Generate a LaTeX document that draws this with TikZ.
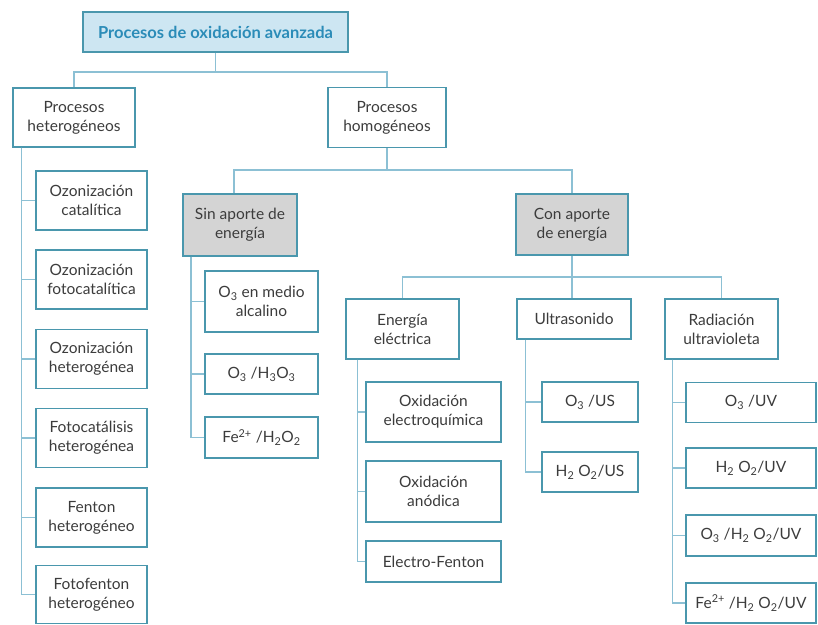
\documentclass[tikz,border=0pt]{standalone}
\usepackage{fontspec}
\setmainfont{Lato}
\usepackage{tikz}

\definecolor{boxline}{HTML}{4A97AD}
\definecolor{linkc}{HTML}{8CC0D4}
\definecolor{titlefill}{HTML}{CDE6F2}
\definecolor{titletext}{HTML}{2B8CB8}
\definecolor{greyfill}{HTML}{D4D4D4}
\definecolor{txt}{HTML}{3C3C3C}

\tikzset{
  box/.style={draw=boxline, line width=1.2pt, fill=white, text=txt, align=center,
    inner sep=0pt, font=\fontsize{15.5}{19}\selectfont},
  greybox/.style={box, fill=greyfill},
  titlebox/.style={box, fill=titlefill, text=titletext, font=\fontsize{16.5}{19}\selectfont\bfseries},
  link/.style={draw=linkc, line width=1.2pt}
}

\begin{document}
\begin{tikzpicture}[x=1pt,y=-1pt]
        \useasboundingbox (0,0) rectangle (818,624);
        % first levels
        \node[titlebox, minimum width=265, minimum height=40] (top) at (215.5,32) {Procesos de oxidación avanzada};
        \node[box, minimum width=122, minimum height=59] (het) at (74,117.5) {Procesos\\heterogéneos};
        \node[box, minimum width=118, minimum height=60] (hom) at (387,117.5) {Procesos\\homogéneos};
        \node[greybox, minimum width=114, minimum height=62] (sin) at (240,225) {Sin aporte de\\energía};
        \node[greybox, minimum width=112, minimum height=61] (con) at (572,224.5) {Con aporte\\de energía};
        \node[box, minimum width=113, minimum height=60] (ene) at (402.5,329) {Energía\\eléctrica};
        \node[box, minimum width=114, minimum height=40] (ult) at (574,319) {Ultrasonido};
        \node[box, minimum width=113, minimum height=60] (rad) at (721.5,329) {Radiación\\ultravioleta};
        % heterogeneous processes
        \node[box, minimum width=111, minimum height=59] (oz1) at (91.5,200.5) {Ozonización\\catalítica};
        \node[box, minimum width=111, minimum height=59] (oz2) at (91.5,279.5) {Ozonización\\fotocatalítica};
        \node[box, minimum width=111, minimum height=59] (oz3) at (91.5,359) {Ozonización\\heterogénea};
        \node[box, minimum width=111, minimum height=59] (fcat) at (91.5,438) {Fotocatálisis\\heterogénea};
        \node[box, minimum width=111, minimum height=59] (fen) at (91.5,517.5) {Fenton\\heterogéneo};
        \node[box, minimum width=111, minimum height=58] (ffen) at (91.5,594.5) {Fotofenton\\heterogéneo};
        % without energy
        \node[box, minimum width=113, minimum height=61] (alc) at (261.5,301.5) {O\textsubscript{3} en medio\\alcalino};
        \node[box, minimum width=113, minimum height=40] (oh) at (261.5,374) {O\textsubscript{3} /H\textsubscript{3}O\textsubscript{3}};
        \node[box, minimum width=113, minimum height=41] (feh) at (261.5,437.5) {Fe\textsuperscript{2+} /H\textsubscript{2}O\textsubscript{2}};
        % electric energy
        \node[box, minimum width=135, minimum height=60] (elq) at (433.5,412) {Oxidación\\electroquímica};
        \node[box, minimum width=135, minimum height=61] (ano) at (433.5,491.5) {Oxidación\\anódica};
        \node[box, minimum width=135, minimum height=41] (efen) at (433.5,561.5) {Electro-Fenton};
        % ultrasound
        \node[box, minimum width=96, minimum height=40] (ous) at (590,402) {O\textsubscript{3} /US};
        \node[box, minimum width=96, minimum height=40] (hus) at (590,472) {H\textsubscript{2} O\textsubscript{2}/US};
        % ultraviolet
        \node[box, minimum width=130, minimum height=40] (ouv) at (751,402.5) {O\textsubscript{3} /UV};
        \node[box, minimum width=130, minimum height=40] (huv) at (751,468) {H\textsubscript{2} O\textsubscript{2}/UV};
        \node[box, minimum width=130, minimum height=41] (ohuv) at (751,535.5) {O\textsubscript{3} /H\textsubscript{2} O\textsubscript{2}/UV};
        \node[box, minimum width=130, minimum height=40] (feuv) at (751,603) {Fe\textsuperscript{2+} /H\textsubscript{2} O\textsubscript{2}/UV};

        % connectors
        \coordinate (bus1) at (215.5,72);
        \coordinate (bus2) at (387,170);
        \coordinate (bus3) at (572,277);
        \draw[link] (top.south) -- (bus1);
        \draw[link] (het.north) |- (bus1) -| (hom.north);
        \draw[link] (hom.south) -- (bus2);
        \draw[link] ([xshift=-6]sin.north) |- (bus2) -| (con.north);
        \draw[link] (con.south) -- (bus3);
        \draw[link] (ene.north) |- (bus3) -| (rad.north);
        \draw[link] ([xshift=-2]ult.north) -- ([xshift=-2]ult.north |- bus3);
        \foreach \c in {oz1,oz2,oz3,fcat,fen,ffen}
          \draw[link] ([xshift=9]het.south west) |- (\c.west);
        \foreach \c in {alc,oh,feh}
          \draw[link] ([xshift=8.5]sin.south west) |- (\c.west);
        \foreach \c in {elq,ano,efen}
          \draw[link] ([xshift=12]ene.south west) |- (\c.west);
        \foreach \c in {ous,hus}
          \draw[link] ([xshift=9]ult.south west) |- (\c.west);
        \foreach \c in {ouv,huv,ohuv,feuv}
          \draw[link] ([xshift=8]rad.south west) |- (\c.west);
\end{tikzpicture}
\end{document}
